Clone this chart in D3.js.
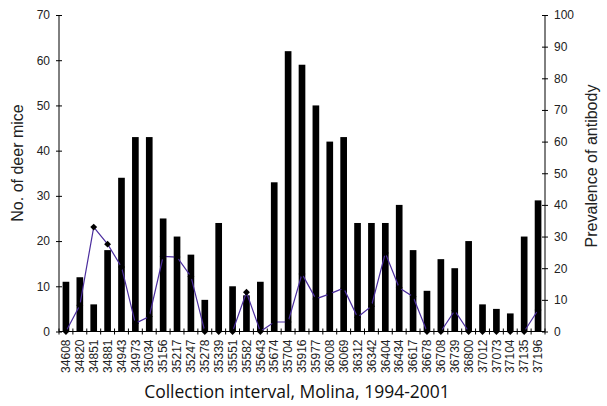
<!DOCTYPE html>
<html><head><meta charset="utf-8">
<script src="https://cdn.jsdelivr.net/npm/d3@7"></script>
<style>body{margin:0;background:#fff}svg{display:block}</style>
</head><body>
<svg id="c" width="607" height="406"></svg>
<script>
const categories = ["34608","34820","34851","34881","34943","34973","35034","35156","35217","35247","35278","35339","35551","35582","35643","35674","35704","35916","35977","36008","36069","36312","36342","36404","36434","36617","36678","36708","36739","36800","37012","37073","37104","37135","37196"];
const mice = [11,12,6,18,34,43,43,25,21,17,7,24,10,8,11,33,62,59,50,42,43,24,24,24,28,18,9,16,14,20,6,5,4,21,29];
const prevalence = [0,8.3,33,27.6,20.4,2.6,4.7,23.7,23.5,17.4,0,0,0,12.4,0,3,3,18.2,10.3,11.9,13.7,4.5,8,24.8,13.8,11,0,0,6.6,0,0,0,0,0,6.8];
const leftTicks = [0,10,20,30,40,50,60,70];
const rightTicks = [0,10,20,30,40,50,60,70,80,90,100];

const FONT = "'Liberation Sans', Arial, sans-serif";
const svg = d3.select("#c");
const L = 59, R = 545, T = 15, B = 331.5;
const x = d3.scaleBand().domain(categories).range([L, R]).paddingInner(0.52).paddingOuter(0.26);
const xs = d3.scaleBand().domain(categories).range([L, R]);
const yL = d3.scaleLinear().domain([0,70]).range([B, T]);
const yR = d3.scaleLinear().domain([0,100]).range([B, T]);

// bars
svg.append("g").selectAll("rect").data(mice).join("rect")
  .attr("x", (d,i)=>x(categories[i]))
  .attr("y", d=>yL(d))
  .attr("width", x.bandwidth())
  .attr("height", d=>B - yL(d))
  .attr("fill", "#000");

// line
const line = d3.line().x((d,i)=>xs(categories[i]) + xs.bandwidth()/2).y(d=>yR(d));
svg.append("path").datum(prevalence).attr("d", line)
  .attr("fill","none").attr("stroke","#4b2d9e").attr("stroke-width",1.2);
svg.append("g").selectAll("path").data(prevalence).join("path")
  .attr("d", d3.symbol(d3.symbolDiamond2, 30))
  .attr("transform", (d,i)=>`translate(${xs(categories[i]) + xs.bandwidth()/2},${yR(d)})`)
  .attr("fill","#000");

// left axis
const gl = svg.append("g").attr("transform",`translate(${L},0)`)
  .call(d3.axisLeft(yL).tickValues(leftTicks).tickSize(3).tickPadding(6));
gl.selectAll(".tick line").attr("x2", 3).attr("x1", -3);
gl.select(".domain").attr("d", `M0,${T}V${B}`);
gl.selectAll("text").attr("font-family",FONT).attr("font-size","12px").attr("fill","#222");

// right axis
const gr = svg.append("g").attr("transform",`translate(${R},0)`)
  .call(d3.axisRight(yR).tickValues(rightTicks).tickSize(3).tickPadding(6));
gr.selectAll(".tick line").attr("x1", -3).attr("x2", 3);
gr.select(".domain").attr("d", `M0,${T}V${B}`);
gr.selectAll("text").attr("font-family",FONT).attr("font-size","12px").attr("fill","#222");

// x axis
const gx = svg.append("g").attr("transform",`translate(0,${B})`)
  .call(d3.axisBottom(xs).tickSize(0).tickPadding(0));
gx.select(".domain").attr("d", `M${L},0H${R}`);
gx.selectAll(".tick text")
  .attr("transform","rotate(-90)")
  .attr("text-anchor","end")
  .attr("dy","0.35em")
  .attr("x", -8).attr("y", 0)
  .attr("font-family",FONT).attr("font-size","12px").attr("fill","#222");
// boundary ticks
svg.append("g").selectAll("line").data(categories.concat(["__end"])).join("line")
  .attr("x1",(d,i)=> L + i*xs.step()).attr("x2",(d,i)=> L + i*xs.step())
  .attr("y1", B-3).attr("y2", B+3).attr("stroke","#000");

// titles
svg.append("text").attr("x", 297).attr("y", 398).attr("text-anchor","middle")
  .attr("font-family","'Open Sans', 'DejaVu Sans', sans-serif").attr("font-size","17.5px").attr("fill","#111")
  .text("Collection interval, Molina, 1994-2001");
svg.append("text").attr("transform","translate(23,163) rotate(-90)").attr("text-anchor","middle")
  .attr("font-family",FONT).attr("font-size","16px").attr("fill","#222")
  .text("No. of deer mice");
svg.append("text").attr("transform","translate(597,166) rotate(-90)").attr("text-anchor","middle")
  .attr("font-family",FONT).attr("font-size","16px").attr("fill","#222")
  .text("Prevalence of antibody");
</script>
</body></html>
